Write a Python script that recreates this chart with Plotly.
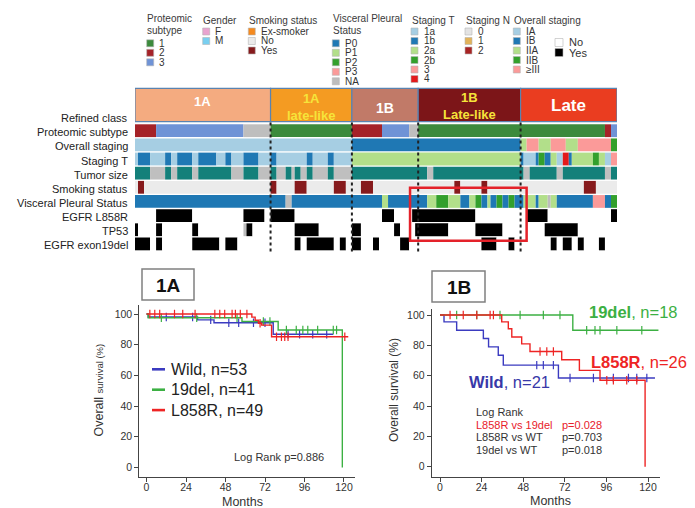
import numpy as np
import plotly.graph_objects as go

W, H = 695, 508
FONT = "Liberation Sans, Arial, Helvetica, sans-serif"

# ---------------- refined classes (patients ordered left to right) ----------------
class_names = ["1A", "1A late-like", "1B", "1B Late-like", "Late"]
class_sizes = [45, 27, 22, 34, 32]
class_colors = ["#f4ab80", "#f49b22", "#c17a68", "#7c1518", "#ea3d20"]

# ---------------- annotation tracks: (category, run length in patients) ----------------
proteomic_subtype = [("2", 7), ("3", 29), ("NA", 9), ("1", 27), ("2", 10), ("3", 9),
                     ("NA", 3), ("1", 62), ("2", 2), ("3", 2)]
overall_staging = [("IA", 72), ("IB", 56), ("IIA", 2), ("≥III", 4), ("IIA", 4), ("≥III", 5),
                   ("IIA", 4), ("≥III", 11), ("IIB", 2)]
staging_t = [("1a", 1), ("1b", 4), ("1a", 5), ("1b", 2), ("1a", 2), ("1b", 5), ("1a", 2),
             ("1b", 6), ("1a", 3), ("1b", 2), ("1a", 4), ("1b", 5), ("1a", 4),
             ("1b", 2), ("1a", 10), ("1b", 2), ("1a", 5), ("1b", 2), ("1a", 6),
             ("2a", 56),
             ("1b", 1), ("1a", 4), ("1b", 1), ("2b", 2), ("1b", 2), ("2a", 2), ("1a", 2),
             ("4", 2), ("1b", 1), ("2a", 7), ("2b", 2), ("2a", 2), ("1a", 2), ("3", 2)]
tumor_size = [(">2 cm", 5), ("≤2 cm", 5), (">2 cm", 2), ("≤2 cm", 2), (">2 cm", 5), ("≤2 cm", 2),
              (">2 cm", 11), ("≤2 cm", 4), (">2 cm", 5), ("≤2 cm", 4),
              (">2 cm", 2), ("≤2 cm", 3), (">2 cm", 2), ("≤2 cm", 1), (">2 cm", 2), ("≤2 cm", 2),
              (">2 cm", 2), ("≤2 cm", 5), (">2 cm", 2), ("≤2 cm", 6),
              (">2 cm", 25), ("≤2 cm", 2), (">2 cm", 30),
              ("≤2 cm", 2), (">2 cm", 9), ("≤2 cm", 2), (">2 cm", 14), ("≤2 cm", 2), (">2 cm", 2)]
smoking_status = [("No", 1), ("Yes", 2), ("No", 42), ("Yes", 2), ("No", 6), ("Yes", 4), ("No", 9),
                  ("Yes", 4), ("No", 5), ("Yes", 4), ("No", 27), ("Yes", 2), ("No", 7), ("Yes", 2),
                  ("No", 32), ("Yes", 4), ("No", 7)]
visceral_pleural = [("P0", 50), ("NA", 2), ("P0", 30), ("P1", 2), ("P0", 13), ("P1", 3), ("P2", 4),
                    ("P1", 4), ("P0", 3), ("P1", 2), ("P2", 2), ("P0", 2), ("P1", 1), ("P0", 2),
                    ("P2", 2), ("P0", 2), ("P2", 2), ("P0", 3), ("P1", 4), ("P0", 1), ("P1", 3),
                    ("NA", 1), ("P1", 2), ("P0", 12), ("P3", 4), ("P0", 2), ("P2", 2)]
egfr_l858r = [("No", 7), ("Yes", 12), ("No", 17), ("Yes", 7), ("No", 2), ("Yes", 8), ("No", 29),
              ("Yes", 4), ("No", 6), ("Yes", 21), ("No", 17), ("Yes", 7), ("No", 21), ("Yes", 2)]
tp53 = [("Yes", 1), ("No", 6), ("Yes", 2), ("No", 10), ("Yes", 2), ("No", 15), ("NA", 1), ("Yes", 2),
        ("No", 14), ("Yes", 8), ("No", 11), ("Yes", 3), ("No", 11), ("Yes", 2), ("No", 5),
        ("Yes", 11), ("No", 9), ("Yes", 9), ("No", 14), ("Yes", 11), ("No", 13)]
egfr_exon19del = [("Yes", 5), ("No", 2), ("Yes", 2), ("No", 10), ("Yes", 9), ("No", 2), ("Yes", 4),
                  ("No", 19), ("Yes", 2), ("No", 2), ("Yes", 9), ("No", 2), ("Yes", 2), ("No", 2),
                  ("Yes", 3), ("No", 4), ("Yes", 2), ("No", 7), ("Yes", 3), ("No", 24), ("Yes", 5),
                  ("No", 4), ("Yes", 2), ("No", 12), ("Yes", 2), ("No", 2), ("Yes", 3), ("No", 2),
                  ("Yes", 2), ("No", 5), ("Yes", 2), ("No", 4)]

# ---------------- palettes ----------------
PROTEOMIC_COLORS = {"1": "#3c8a3c", "2": "#a52228", "3": "#6f93d6", "NA": "#bebebe"}
GENDER_COLORS = {"F": "#e9a3cf", "M": "#79cff0"}
SMOKE_COLORS = {"Ex-smoker": "#f58a1f", "No": "#ebebeb", "Yes": "#861a1c"}
PLEURA_COLORS = {"P0": "#1f78b4", "P1": "#b2df8a", "P2": "#33a02c", "P3": "#fb9a99", "NA": "#bdbdbd"}
T_COLORS = {"1a": "#a6cee3", "1b": "#1f78b4", "2a": "#b2df8a", "2b": "#33a02c", "3": "#fb9a99", "4": "#e31a1c"}
N_COLORS = {"0": "#e3e3e3", "1": "#e2b35a", "2": "#a82424"}
STAGE_COLORS = {"IA": "#a6cee3", "IB": "#1f78b4", "IIA": "#b2df8a", "IIB": "#33a02c", "≥III": "#fb9a99"}
SIZE_COLORS = {">2 cm": "#13807a", "≤2 cm": "#bfbfbf"}
MUT_COLORS = {"No": "#ffffff", "Yes": "#000000", "NA": "#bdbdbd"}

# ---------------- Kaplan-Meier data (months, survival %) ----------------
# stage 1A
a_wild_t, a_wild_s, a_wild_end = [1, 31, 41, 77], [98.1, 96.2, 94.3, 86.8], 113.5
a_wild_cens = [12, 28, 39, 50, 56, 65, 72, 86, 93, 101, 109.5]
a_del_t, a_del_s, a_del_end = [1, 58, 80, 119], [97.6, 95.1, 89.6, 0], 119
a_del_cens = [9, 30.5, 55, 71, 75, 85, 91, 95, 98, 104, 113.5, 115.5]
a_l858_t, a_l858_s, a_l858_end = [64, 66, 68, 70, 76], [98, 96, 94, 92.8, 85.2], 122.6
a_l858_cens = [2, 5, 8, 17, 22, 29.5, 41.5, 44.5, 47.5, 52, 54, 57, 61, 69, 79, 82, 84, 86, 120.5]
# stage 1B
b_wild_t = [2.3, 9.6, 25, 28, 33.6, 36.5, 68.3]
b_wild_s = [95.5, 90, 84.5, 79, 73.5, 67, 58.5]
b_wild_end = 124
b_wild_cens = [55.8, 59.6, 65.4, 75, 88.5, 100, 108.7, 113.5, 119.3]
b_del_t, b_del_s, b_del_end = [76.6], [90], 126
b_del_cens = [9.6, 21.2, 34.6, 46.2, 59.6, 69.2, 84.6, 89.4, 92.3, 102, 116.4]
b_l858_t = [35.6, 39.4, 41.4, 47.1, 51.9, 70.2, 80.4, 92.3, 118.3]
b_l858_s = [95.5, 91, 85.5, 81, 76, 70.5, 63.5, 57, 0]
b_l858_end = 118.3
b_l858_cens = [5.8, 13.4, 21.2, 28.9, 30.8, 57.7, 61.6, 65.4, 96.2, 100, 107.7, 113.5]

month_ticks = [0, 24, 48, 72, 96, 120]
surv_ticks = [0, 20, 40, 60, 80, 100]

BLUE, GREEN, RED = "#3b3bc0", "#3cb043", "#ee2424"

# ---------------- helpers ----------------
def px_x(x):
    return x / W


def px_y(y):
    return 1 - y / H


fig = go.Figure()
annotations = []
shapes = []


def text(x, y, s, size=10, color="#333", xanchor="left", yanchor="middle", xref="paper", yref="paper", **kw):
    annotations.append(dict(x=x, y=y, xref=xref, yref=yref, text=s, showarrow=False,
                            xanchor=xanchor, yanchor=yanchor,
                            font=dict(family=FONT, size=size, color=color), **kw))


# ---------------- oncoprint-style heatmap ----------------
ROW0, PITCH, ROW_H = 130.7, 14.15, 12.8
BAND_TOP, BAND_BOT = 88.3, 121.7

tracks = [
    ("Proteomic subtype", proteomic_subtype, PROTEOMIC_COLORS),
    ("Overall staging", overall_staging, STAGE_COLORS),
    ("Staging T", staging_t, T_COLORS),
    ("Tumor size", tumor_size, SIZE_COLORS),
    ("Smoking status", smoking_status, SMOKE_COLORS),
    ("Visceral Pleural Status", visceral_pleural, PLEURA_COLORS),
    ("EGFR L858R", egfr_l858r, MUT_COLORS),
    ("TP53", tp53, MUT_COLORS),
    ("EGFR exon19del", egfr_exon19del, MUT_COLORS),
]

bounds = np.concatenate([[0], np.cumsum(class_sizes)])
n_patients = int(bounds[-1])

fig.add_trace(go.Bar(
    x=class_sizes, base=bounds[:-1], y=[(BAND_TOP + BAND_BOT) / 2] * len(class_sizes),
    width=BAND_BOT - BAND_TOP, orientation="h",
    marker=dict(color=class_colors, line=dict(color="#5a83b0", width=1.2)),
    hoverinfo="skip", showlegend=False, xaxis="x", yaxis="y"))

# class label style: colour, font size, vertical centre
CLASS_TEXT = {
    "1A": ("white", 13, 101),
    "1A late-like": ("#f6e43a", 13, 106.5),
    "1B": ("white", 14, 107.5),
    "1B Late-like": ("#f6e43a", 13, 105.5),
    "Late": ("white", 17, 105),
}
for name, lo, hi in zip(class_names, bounds[:-1], bounds[1:]):
    color, size, yy = CLASS_TEXT[name]
    label = "<br>".join(f"<b>{part}</b>" for part in name.split(" ", 1))
    text((lo + hi) / 2, yy, label, size=size, color=color, xanchor="center", xref="x", yref="y")

text(px_x(130), 118.3, "Refined class", size=11, color="#222", xanchor="right", yref="y")
for i, (label, runs, cmap) in enumerate(tracks):
    cats = [c for c, _ in runs]
    lens = [n for _, n in runs]
    starts = np.concatenate([[0], np.cumsum(lens)[:-1]])
    yc = ROW0 + i * PITCH
    fig.add_trace(go.Bar(
        x=lens, base=starts, y=[yc] * len(runs), width=ROW_H, orientation="h",
        marker=dict(color=[cmap[c] for c in cats], line=dict(width=0)),
        hoverinfo="skip", showlegend=False, xaxis="x", yaxis="y"))
    text(px_x(130), yc + 1.5, label, size=11, color="#222", xanchor="right", yref="y")

# dotted class separators
for b in bounds[1:-1]:
    shapes.append(dict(type="line", xref="x", yref="y", x0=b, x1=b, y0=122.5, y1=253,
                       line=dict(color="#222", width=2, dash="dot")))

# highlight around the 1B late-like mutation block
smoke_row, tp53_row = 4, 7
shapes.append(dict(type="rect", xref="x", yref="y",
                   x0=bounds[3] - 2.7, x1=bounds[4] + 2,
                   y0=ROW0 + smoke_row * PITCH + 0.5, y1=ROW0 + tp53_row * PITCH + 11,
                   line=dict(color="#e4222a", width=2.5)))

# ---------------- track legends ----------------
legend_groups = [
    (["Proteomic", "subtype"], 146.7, PROTEOMIC_COLORS, ["1", "2", "3"]),
    (["Gender"], 202.7, GENDER_COLORS, ["F", "M"]),
    (["Smoking status"], 248.3, SMOKE_COLORS, ["Ex-smoker", "No", "Yes"]),
    (["Visceral Pleural", "Status"], 332.3, PLEURA_COLORS, ["P0", "P1", "P2", "P3", "NA"]),
    (["Staging T"], 411.0, T_COLORS, ["1a", "1b", "2a", "2b", "3", "4"]),
    (["Staging N"], 465.0, N_COLORS, ["0", "1", "2"]),
    (["Overall staging"], 513.3, STAGE_COLORS, ["IA", "IB", "IIA", "IIB", "≥III"]),
    ([], 555.0, MUT_COLORS, ["No", "Yes"]),
]
for title_lines, x0, cmap, keys in legend_groups:
    if len(title_lines) == 2:
        title_ys, y_start = [18.3, 30.0], 43.3
    elif len(title_lines) == 1:
        title_ys, y_start = [20.0], 31.5
    else:
        title_ys, y_start = [], 42.5
    for t, ty in zip(title_lines, title_ys):
        text(px_x(x0 - 1.5), px_y(ty), t, size=10, color="#3a3a3a")
    big = not title_lines
    sw = 8 if big else 7
    for k, key in enumerate(keys):
        yc = y_start + k * (10 if big else 9.5)
        shapes.append(dict(type="rect", xref="paper", yref="paper",
                           x0=px_x(x0), x1=px_x(x0 + sw), y0=px_y(yc - sw / 2), y1=px_y(yc + sw / 2),
                           fillcolor=cmap[key], line=dict(color="#b5b5b5", width=0.6)))
        text(px_x(x0 + sw + 3.5), px_y(yc), key, size=11 if big else 10, color="#333")

# ---------------- Kaplan-Meier panels ----------------
def step_at(times, surv, t):
    idx = np.searchsorted(times, t, side="right") - 1
    return 100.0 if idx < 0 else surv[idx]


def add_km(times, surv, end, cens, color, xa, ya):
    xs = [0] + list(times) + [end]
    ys = [100] + list(surv) + [surv[-1]]
    fig.add_trace(go.Scatter(x=xs, y=ys, mode="lines", line=dict(color=color, width=1.4, shape="hv"),
                             hoverinfo="skip", showlegend=False, xaxis=xa, yaxis=ya))
    fig.add_trace(go.Scatter(x=cens, y=[step_at(times, surv, c) for c in cens], mode="markers",
                             marker=dict(symbol="line-ns-open", size=6, color=color,
                                         line=dict(color=color, width=1.2)),
                             hoverinfo="skip", showlegend=False, xaxis=xa, yaxis=ya))


add_km(a_wild_t, a_wild_s, a_wild_end, a_wild_cens, BLUE, "x2", "y2")
add_km(a_del_t, a_del_s, a_del_end, a_del_cens, GREEN, "x2", "y2")
add_km(a_l858_t, a_l858_s, a_l858_end, a_l858_cens, RED, "x2", "y2")

add_km(b_wild_t, b_wild_s, b_wild_end, b_wild_cens, BLUE, "x3", "y3")
add_km(b_del_t, b_del_s, b_del_end, b_del_cens, GREEN, "x3", "y3")
add_km(b_l858_t, b_l858_s, b_l858_end, b_l858_cens, RED, "x3", "y3")

axis_common = dict(showline=True, linecolor="#444", linewidth=1, ticks="outside", ticklen=4,
                   tickwidth=1, tickcolor="#444", showgrid=False, zeroline=False,
                   tickfont=dict(family=FONT, size=10.5, color="#333"), fixedrange=True)

# panel titles
for label, (x0, y0, x1, y1) in [("1A", (142, 269, 194, 300)), ("1B", (432, 271, 485, 302))]:
    shapes.append(dict(type="rect", xref="paper", yref="paper", x0=px_x(x0), x1=px_x(x1),
                       y0=px_y(y1), y1=px_y(y0), line=dict(color="#808080", width=1.5),
                       fillcolor="white"))
    text(px_x((x0 + x1) / 2), px_y((y0 + y1) / 2 + 0.5), f"<b>{label}</b>", size=19, color="#111",
         xanchor="center")

# 1A legend
for k, (lab, col) in enumerate([("Wild, n=53", BLUE), ("19del, n=41", GREEN), ("L858R, n=49", RED)]):
    yy = 369.3 + k * 20.4
    shapes.append(dict(type="line", xref="paper", yref="paper", x0=px_x(152), x1=px_x(165),
                       y0=px_y(yy), y1=px_y(yy), line=dict(color=col, width=2.6)))
    text(px_x(169), px_y(yy), lab, size=16, color="#222")
text(px_x(232), px_y(456.7), "Log Rank p=0.886", size=11, color="#333")

# 1A axis titles
text(px_x(242.5), px_y(502), "Months", size=12.5, color="#333", xanchor="center")
text(px_x(98.5), px_y(390), "Overall <span style='font-size:9.5px'>survival (%)</span>", size=12.5,
     color="#333", xanchor="center", textangle=-90)

# 1B labels
text(px_x(587), px_y(312), "<b>19del</b>, n=18", size=16.5, color=GREEN)
text(px_x(589), px_y(362), "<b>L858R</b>, n=26", size=16.5, color=RED)
text(px_x(467), px_y(382), "<b>Wild</b>, n=21", size=16.5, color="#3838a8")
text(px_x(474), px_y(411.7), "Log Rank", size=11, color="#333")
for k, (lab, p, col) in enumerate([("L858R vs 19del", "p=0.028", "#e8202a"),
                                   ("L858R vs WT", "p=0.703", "#333"),
                                   ("19del vs WT", "p=0.018", "#333")]):
    yy = 424.5 + k * 12.8
    text(px_x(474), px_y(yy), lab, size=11, color=col)
    text(px_x(560), px_y(yy), p, size=11, color=col)

text(px_x(550), px_y(501), "Months", size=12.5, color="#333", xanchor="center")
text(px_x(394), px_y(390), "Overall survival (%)", size=12, color="#333", xanchor="center",
     textangle=-90)

fig.update_layout(
    width=W, height=H, margin=dict(l=0, r=0, t=0, b=0, pad=0),
    paper_bgcolor="white", plot_bgcolor="white", barmode="overlay",
    font=dict(family=FONT),
    xaxis=dict(domain=[135 / W, 617 / W], range=[0, n_patients], visible=False, fixedrange=True,
               anchor="y"),
    yaxis=dict(domain=[0, 1], range=[H, 0], visible=False, fixedrange=True, anchor="x"),
    xaxis2=dict(domain=[139.3 / W, 355 / W], range=[-4.4, 126.7], tickvals=month_ticks,
                anchor="y2", ticklabelstandoff=-3, **axis_common),
    yaxis2=dict(domain=[px_y(476.7), px_y(305)], range=[-6.0, 105.9], tickvals=surv_ticks,
                anchor="x2", **axis_common),
    xaxis3=dict(domain=[431.7 / W, 660 / W], range=[-4.8, 126.9], tickvals=month_ticks,
                anchor="y3", ticklabelstandoff=-3, **axis_common),
    yaxis3=dict(domain=[px_y(476.7), px_y(309.3)], range=[-6.6, 103.8], tickvals=surv_ticks,
                anchor="x3", **axis_common),
    annotations=annotations, shapes=shapes,
)

fig.write_html("out.html")
